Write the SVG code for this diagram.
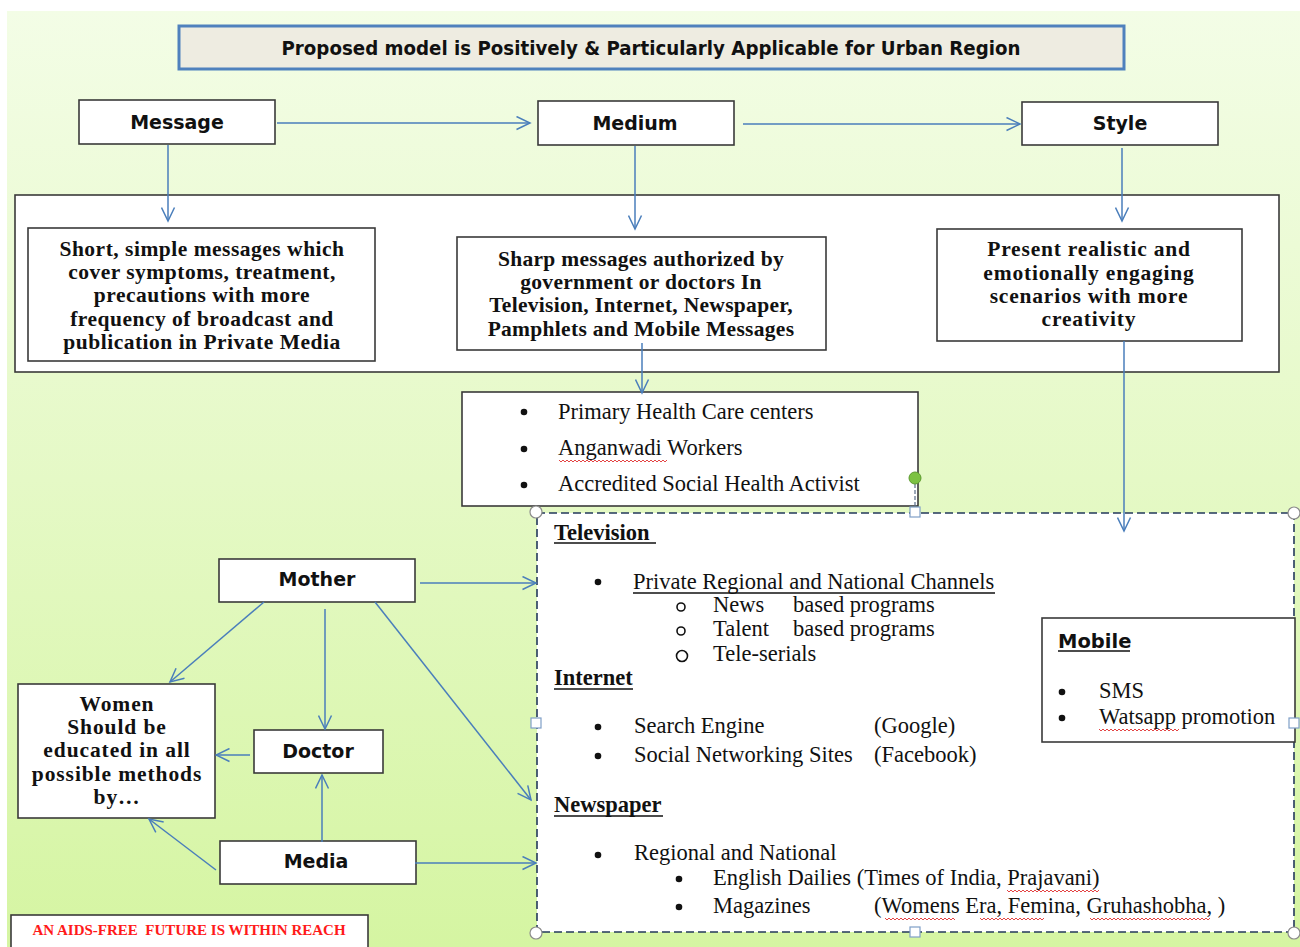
<svg xmlns="http://www.w3.org/2000/svg" width="1300" height="947" viewBox="0 0 1300 947">
<defs>
<linearGradient id="bg" x1="0" y1="0" x2="0" y2="1">
<stop offset="0" stop-color="#f3fde6"/>
<stop offset="0.5" stop-color="#e5f9c6"/>
<stop offset="1" stop-color="#d5f5a2"/>
</linearGradient>
<marker id="ah" markerUnits="userSpaceOnUse" viewBox="0 0 16 15" markerWidth="16" markerHeight="15" refX="14.5" refY="7.5" orient="auto">
<path d="M1,1 L14.5,7.5 L1,14" fill="none" stroke="#4a7ebb" stroke-width="1.5"/>
</marker>
<style>
.box{fill:#fff;stroke:#3a3a3a;stroke-width:1.6}
.lbl{font-family:"DejaVu Sans","Liberation Sans",sans-serif;font-weight:bold;font-size:19px;fill:#111;text-anchor:middle}
.bs{font-family:"Liberation Serif","Times New Roman",serif;font-weight:bold;font-size:21.5px;fill:#111;text-anchor:middle}
.rs{font-family:"Liberation Serif","Times New Roman",serif;font-size:22.5px;fill:#111}
.hd{font-family:"Liberation Serif","Times New Roman",serif;font-weight:bold;font-size:22.5px;fill:#111}
.ul{stroke:#111;stroke-width:1.3}
.bu{fill:#111}
.con{fill:none;stroke:#4a7ebb;stroke-width:1.5;marker-end:url(#ah)}
.sq{fill:none;stroke:#e03030;stroke-width:0.9}
.hc{fill:#fff;stroke:#8c8c8c;stroke-width:1.2}
.hs{fill:#fff;stroke:#7f9fc7;stroke-width:1.2}
</style>
</defs>
<rect x="0" y="0" width="1300" height="947" fill="#ffffff"/>
<rect x="7" y="11" width="1293" height="936" fill="url(#bg)"/>

<g id="title">
<rect x="179" y="26" width="945" height="43" fill="#eeece1" stroke="#4f81bd" stroke-width="3"/>
<text x="651" y="55" class="lbl" font-size="18" textLength="739" lengthAdjust="spacingAndGlyphs">Proposed model is Positively &amp; Particularly Applicable for Urban Region</text>
</g>

<g id="node-message">
<rect class="box" x="79" y="100" width="196" height="44"/>
<text class="lbl" x="177" y="129">Message</text>
</g>
<g id="node-medium">
<rect class="box" x="538" y="101" width="196" height="44"/>
<text class="lbl" x="635" y="130">Medium</text>
</g>
<g id="node-style">
<rect class="box" x="1022" y="102" width="196" height="43"/>
<text class="lbl" x="1120" y="130">Style</text>
</g>

<g id="container">
<rect class="box" x="15" y="195" width="1264" height="177"/>
</g>

<g id="node-short">
<rect class="box" x="28" y="228" width="347" height="133"/>
<g class="bs" letter-spacing="0.5">
<text x="202" y="256">Short, simple messages which</text>
<text x="202" y="279">cover symptoms, treatment,</text>
<text x="202" y="302">precautions with more</text>
<text x="202" y="326">frequency of broadcast and</text>
<text x="202" y="349">publication in Private Media</text>
</g>
</g>

<g id="node-sharp">
<rect class="box" x="457" y="237" width="369" height="113"/>
<g class="bs" letter-spacing="0.3">
<text x="641" y="266">Sharp messages authorized by</text>
<text x="641" y="289">government or doctors In</text>
<text x="641" y="312">Television, Internet, Newspaper,</text>
<text x="641" y="336">Pamphlets and Mobile Messages</text>
</g>
</g>

<g id="node-present">
<rect class="box" x="937" y="229" width="305" height="112"/>
<g class="bs" letter-spacing="0.8">
<text x="1089" y="256">Present realistic and</text>
<text x="1089" y="280">emotionally engaging</text>
<text x="1089" y="303">scenarios with more</text>
<text x="1089" y="326">creativity</text>
</g>
</g>

<g id="node-health">
<rect class="box" x="462" y="392" width="456" height="114"/>
<circle class="bu" cx="524" cy="412" r="3.3"/>
<text class="rs" x="558" y="419">Primary Health Care centers</text>
<circle class="bu" cx="524" cy="449" r="3.3"/>
<text class="rs" x="558" y="455">Anganwadi Workers</text>
<circle class="bu" cx="524" cy="485" r="3.3"/>
<text class="rs" x="558" y="491">Accredited Social Health Activist</text>
<path class="sq" d="M559,460 l2,2 l2,-2 l2,2 l2,-2 l2,2 l2,-2 l2,2 l2,-2 l2,2 l2,-2 l2,2 l2,-2 l2,2 l2,-2 l2,2 l2,-2 l2,2 l2,-2 l2,2 l2,-2 l2,2 l2,-2 l2,2 l2,-2 l2,2 l2,-2 l2,2 l2,-2 l2,2 l2,-2 l2,2 l2,-2 l2,2 l2,-2 l2,2 l2,-2 l2,2 l2,-2 l2,2 l2,-2 l2,2 l2,-2 l2,2 l2,-2 l2,2 l2,-2 l2,2 l2,-2 l2,2 l2,-2 l2,2 l2,-2 l2,2 l2,-2"/>
</g>

<g id="node-media-channels">
<rect x="537" y="513" width="757" height="419" fill="#fff" stroke="#23395b" stroke-width="1.6" stroke-dasharray="8 4"/>
<text class="hd" x="554" y="540">Television</text>
<line class="ul" x1="554" y1="543" x2="656" y2="543"/>
<circle class="bu" cx="598" cy="582" r="3.3"/>
<text class="rs" x="633" y="589">Private Regional and National Channels</text>
<line class="ul" x1="633" y1="593" x2="995" y2="593"/>
<circle cx="681" cy="607" r="4" fill="none" stroke="#111" stroke-width="1.6"/>
<text class="rs" x="713" y="612">News</text>
<text class="rs" x="793" y="612">based programs</text>
<circle cx="681" cy="631" r="4" fill="none" stroke="#111" stroke-width="1.6"/>
<text class="rs" x="713" y="636">Talent</text>
<text class="rs" x="793" y="636">based programs</text>
<circle cx="682" cy="656" r="5.5" fill="none" stroke="#111" stroke-width="1.6"/>
<text class="rs" x="713" y="661">Tele-serials</text>
<text class="hd" x="554" y="685">Internet</text>
<line class="ul" x1="554" y1="689" x2="633" y2="689"/>
<circle class="bu" cx="598" cy="727" r="3.3"/>
<text class="rs" x="634" y="733">Search Engine</text>
<text class="rs" x="874" y="733">(Google)</text>
<circle class="bu" cx="598" cy="756" r="3.3"/>
<text class="rs" x="634" y="762">Social Networking Sites</text>
<text class="rs" x="874" y="762">(Facebook)</text>
<text class="hd" x="554" y="812">Newspaper</text>
<line class="ul" x1="554" y1="816" x2="663" y2="816"/>
<circle class="bu" cx="598" cy="855" r="3.3"/>
<text class="rs" x="634" y="860">Regional and National</text>
<circle class="bu" cx="679" cy="879" r="3.3"/>
<text class="rs" x="713" y="885">English Dailies (Times of India, Prajavani)</text>
<circle class="bu" cx="679" cy="907" r="3.3"/>
<text class="rs" x="713" y="913">Magazines</text>
<text class="rs" x="874" y="913">(Womens Era, Femina, Gruhashobha, )</text>
<path class="sq" d="M1007,890 l2,2 l2,-2 l2,2 l2,-2 l2,2 l2,-2 l2,2 l2,-2 l2,2 l2,-2 l2,2 l2,-2 l2,2 l2,-2 l2,2 l2,-2 l2,2 l2,-2 l2,2 l2,-2 l2,2 l2,-2 l2,2 l2,-2 l2,2 l2,-2 l2,2 l2,-2 l2,2 l2,-2 l2,2 l2,-2 l2,2 l2,-2 l2,2 l2,-2 l2,2 l2,-2 l2,2 l2,-2 l2,2 l2,-2 l2,2 l2,-2 l2,2 l2,-2"/>
<path class="sq" d="M885,918 l2,2 l2,-2 l2,2 l2,-2 l2,2 l2,-2 l2,2 l2,-2 l2,2 l2,-2 l2,2 l2,-2 l2,2 l2,-2 l2,2 l2,-2 l2,2 l2,-2 l2,2 l2,-2 l2,2 l2,-2 l2,2 l2,-2 l2,2 l2,-2 l2,2 l2,-2 l2,2 l2,-2 l2,2 l2,-2 l2,2 l2,-2 l2,2"/>
<path class="sq" d="M980,918 l2,2 l2,-2 l2,2 l2,-2 l2,2 l2,-2 l2,2 l2,-2 l2,2 l2,-2 l2,2 l2,-2 l2,2 l2,-2 l2,2 l2,-2 l2,2 l2,-2 l2,2 l2,-2 l2,2 l2,-2 l2,2 l2,-2 l2,2 l2,-2 l2,2 l2,-2 l2,2 l2,-2 l2,2 l2,-2"/>
<path class="sq" d="M1090,918 l2,2 l2,-2 l2,2 l2,-2 l2,2 l2,-2 l2,2 l2,-2 l2,2 l2,-2 l2,2 l2,-2 l2,2 l2,-2 l2,2 l2,-2 l2,2 l2,-2 l2,2 l2,-2 l2,2 l2,-2 l2,2 l2,-2 l2,2 l2,-2 l2,2 l2,-2 l2,2 l2,-2 l2,2 l2,-2 l2,2 l2,-2 l2,2 l2,-2 l2,2 l2,-2 l2,2 l2,-2 l2,2 l2,-2 l2,2 l2,-2 l2,2 l2,-2 l2,2 l2,-2 l2,2 l2,-2 l2,2 l2,-2 l2,2 l2,-2 l2,2 l2,-2 l2,2 l2,-2 l2,2 l2,-2"/>
</g>

<g id="node-mobile">
<rect x="1042" y="618" width="253" height="124" fill="#fff" stroke="#3a3a3a" stroke-width="1.6"/>
<text x="1058" y="648" font-family="DejaVu Sans, Liberation Sans, sans-serif" font-weight="bold" font-size="19.5" fill="#111">Mobile</text>
<line class="ul" x1="1058" y1="651" x2="1130" y2="651"/>
<circle class="bu" cx="1062" cy="692" r="3.3"/>
<text class="rs" x="1099" y="698">SMS</text>
<circle class="bu" cx="1062" cy="718" r="3.3"/>
<text class="rs" x="1099" y="724">Watsapp promotion</text>
<path class="sq" d="M1099,729 l2,2 l2,-2 l2,2 l2,-2 l2,2 l2,-2 l2,2 l2,-2 l2,2 l2,-2 l2,2 l2,-2 l2,2 l2,-2 l2,2 l2,-2 l2,2 l2,-2 l2,2 l2,-2 l2,2 l2,-2 l2,2 l2,-2 l2,2 l2,-2 l2,2 l2,-2 l2,2 l2,-2 l2,2 l2,-2 l2,2 l2,-2 l2,2 l2,-2 l2,2 l2,-2 l2,2 l2,-2"/>
</g>

<g id="node-mother">
<rect class="box" x="219" y="559" width="196" height="43"/>
<text class="lbl" x="317" y="586">Mother</text>
</g>
<g id="node-doctor">
<rect class="box" x="254" y="730" width="129" height="43"/>
<text class="lbl" x="318" y="758">Doctor</text>
</g>
<g id="node-media">
<rect class="box" x="220" y="841" width="196" height="43"/>
<text class="lbl" x="316" y="868">Media</text>
</g>
<g id="node-women">
<rect class="box" x="18" y="684" width="197" height="134"/>
<g class="bs" letter-spacing="0.9">
<text x="117" y="711">Women</text>
<text x="117" y="734">Should be</text>
<text x="117" y="757">educated in all</text>
<text x="117" y="781">possible methods</text>
<text x="117" y="804">by…</text>
</g>
</g>

<g id="node-slogan">
<rect x="11" y="915" width="357" height="40" fill="#fff" stroke="#3a3a3a" stroke-width="1.6"/>
<text x="189" y="935" font-family="Liberation Serif, Times New Roman, serif" font-weight="bold" font-size="15" fill="#ff1a1a" text-anchor="middle" xml:space="preserve">AN AIDS-FREE  FUTURE IS WITHIN REACH</text>
</g>

<g id="selection-handles">
<line x1="915" y1="484" x2="915" y2="509" stroke="#5a6e88" stroke-width="1.2" stroke-dasharray="4 2"/>
<circle cx="915" cy="478" r="6" fill="#7cc242" stroke="#5c9a2e" stroke-width="1"/>
<circle class="hc" cx="536" cy="512" r="6"/>
<circle class="hc" cx="1294" cy="513" r="6"/>
<circle class="hc" cx="536" cy="933" r="6"/>
<circle class="hc" cx="1294" cy="933" r="6"/>
<rect class="hs" x="910" y="507" width="10" height="10"/>
<rect class="hs" x="910" y="927" width="10" height="10"/>
<rect class="hs" x="531" y="718" width="10" height="10"/>
<rect class="hs" x="1289" y="718" width="10" height="10"/>
</g>

<g id="connectors">
<line class="con" x1="277" y1="123" x2="530" y2="123"/>
<line class="con" x1="743" y1="124" x2="1020" y2="124"/>
<line class="con" x1="168" y1="145" x2="168" y2="221"/>
<line class="con" x1="635" y1="146" x2="635" y2="229"/>
<line class="con" x1="1122" y1="148" x2="1122" y2="221"/>
<line class="con" x1="642" y1="343" x2="642" y2="393"/>
<line class="con" x1="1124" y1="341" x2="1124" y2="531"/>
<line class="con" x1="420" y1="583" x2="536" y2="583"/>
<line class="con" x1="264" y1="602" x2="170" y2="682"/>
<line class="con" x1="325" y1="609" x2="325" y2="729"/>
<line class="con" x1="375" y1="602" x2="531" y2="800"/>
<line class="con" x1="250" y1="755" x2="216" y2="755"/>
<line class="con" x1="322" y1="842" x2="322" y2="775"/>
<line class="con" x1="216" y1="870" x2="149" y2="819"/>
<line class="con" x1="415" y1="863" x2="536" y2="863"/>
</g>
</svg>
